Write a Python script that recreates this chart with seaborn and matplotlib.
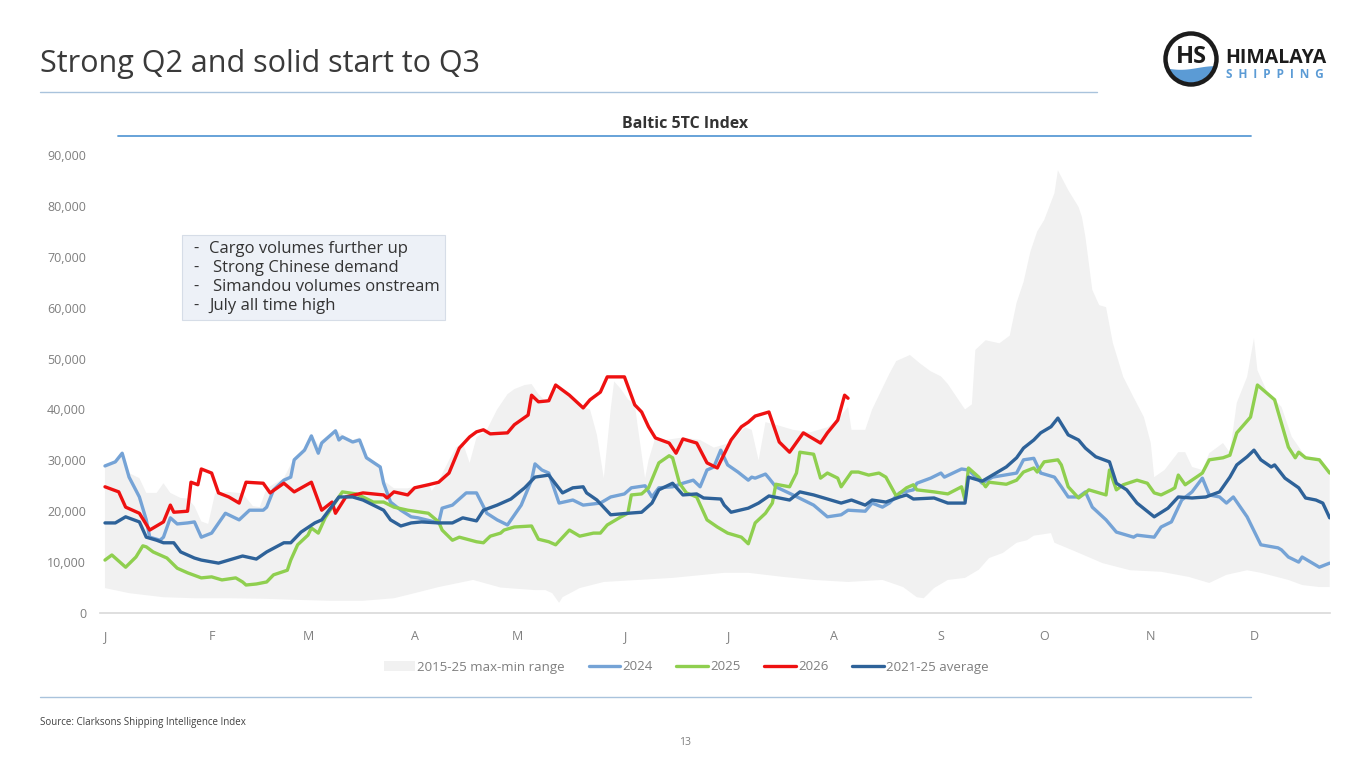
import numpy as np
import pandas as pd
import matplotlib
matplotlib.use("Agg")
import matplotlib.pyplot as plt
import seaborn as sns
from matplotlib.patches import Rectangle, Circle, Polygon, Patch
from matplotlib.lines import Line2D

# x axis: day of year, month initials at month starts
month_days = [0, 31, 59, 90, 120, 151, 181, 212, 243, 273, 304, 334]
month_labels = ["J", "F", "M", "A", "M", "J", "J", "A", "S", "O", "N", "D"]
y_ticks = list(range(0, 90001, 10000))

# values in USD '000 / day
days_2026 = [0, 4, 6, 10, 13, 17, 19, 20, 24, 25, 27, 28, 31, 33, 36, 39, 41, 46, 48, 52,
             55, 60, 63, 66, 67, 70, 75, 81, 82, 84, 88, 90, 94, 97, 100, 103, 106, 108, 110, 112,
             117, 119, 123, 124, 126, 129, 131, 135, 139, 141, 144, 146, 151, 154, 156, 158, 160, 164, 166, 168,
             172, 175, 178, 182, 185, 187, 189, 193, 196, 199, 203, 208, 210, 213, 215, 216]
vals_2026 = [24.8, 23.8, 20.8, 19.6, 16.3, 17.9, 21.2, 19.8, 20.0, 25.7, 25.2, 28.3, 27.5, 23.6, 22.8, 21.6, 25.7, 25.5, 23.6, 25.5,
             23.8, 25.7, 20.2, 21.8, 19.6, 22.8, 23.6, 23.2, 22.6, 23.8, 23.2, 24.6, 25.2, 25.7, 27.5, 32.4, 34.6, 35.6, 36.0, 35.2,
             35.4, 37.0, 38.9, 42.8, 41.5, 41.7, 44.8, 42.8, 40.3, 41.9, 43.4, 46.4, 46.4, 40.9, 39.5, 36.6, 34.4, 33.4, 31.4, 34.2,
             33.4, 29.5, 28.5, 34.0, 36.6, 37.5, 38.7, 39.5, 33.6, 31.6, 35.4, 33.4, 35.4, 37.9, 42.8, 42.2]

days_2024 = [0, 3, 5, 7, 10, 12, 13, 16, 17, 19, 21, 24, 26, 28, 31, 35, 39, 42, 46, 47,
             49, 52, 54, 55, 58, 60, 62, 63, 67, 68, 69, 72, 74, 76, 80, 81, 83, 86, 89, 91,
             97, 98, 101, 105, 108, 111, 114, 117, 121, 124, 125, 127, 129, 132, 136, 139, 144, 147, 151, 153,
             157, 159, 161, 165, 168, 171, 173, 175, 177, 179, 181, 184, 187, 188, 189, 192, 193, 195, 200, 203,
             206, 210, 214, 216, 221, 223, 226, 228, 231, 235, 236, 240, 243, 244, 249, 251, 255, 258, 265, 267,
             270, 272, 276, 278, 280, 283, 285, 287, 291, 294, 299, 300, 305, 307, 310, 313, 316, 319, 321, 324,
             326, 328, 332, 336, 341, 342, 344, 347, 348, 353, 356]
vals_2024 = [28.9, 29.7, 31.4, 26.7, 22.8, 18.3, 14.9, 14.3, 14.9, 18.7, 17.5, 17.7, 17.9, 14.9, 15.7, 19.6, 18.3, 20.2, 20.2, 20.8,
             24.2, 26.1, 26.7, 30.1, 32.0, 34.8, 31.4, 33.4, 35.8, 34.0, 34.6, 33.6, 34.0, 30.5, 28.7, 25.5, 21.8, 20.2, 18.9, 18.7,
             17.7, 20.6, 21.2, 23.6, 23.6, 19.6, 18.3, 17.3, 21.2, 26.1, 29.3, 28.1, 27.5, 21.6, 22.2, 21.2, 21.6, 22.8, 23.4, 24.6,
             25.0, 22.8, 24.6, 24.8, 25.5, 26.1, 24.8, 28.1, 28.7, 32.0, 29.1, 27.7, 26.1, 26.7, 26.5, 27.3, 26.5, 24.8, 23.2, 22.2,
             21.2, 18.9, 19.3, 20.2, 20.0, 21.6, 20.8, 21.6, 23.6, 24.2, 25.5, 26.5, 27.5, 26.7, 28.3, 28.1, 25.5, 26.7, 27.5, 30.1,
             30.4, 27.5, 26.7, 24.8, 22.8, 22.8, 23.8, 20.8, 18.3, 15.9, 14.9, 15.3, 14.9, 16.9, 17.9, 22.2, 23.8, 26.5, 23.2, 22.8,
             21.6, 22.8, 18.9, 13.4, 12.8, 12.4, 11.0, 10.0, 11.0, 9.0, 9.8]

days_2025 = [0, 2, 6, 9, 11, 12, 14, 18, 21, 24, 28, 31, 34, 38, 40, 41, 44, 47, 49, 53,
             54, 56, 59, 60, 62, 64, 66, 69, 73, 75, 78, 81, 84, 88, 94, 97, 98, 101, 103, 108,
             110, 112, 115, 116, 119, 124, 126, 129, 131, 135, 138, 142, 144, 146, 150, 152, 153, 156, 158, 161,
             164, 165, 167, 169, 172, 175, 178, 181, 185, 187, 189, 192, 194, 195, 199, 201, 202, 206, 208, 210,
             213, 214, 217, 219, 222, 225, 227, 230, 233, 235, 236, 241, 245, 249, 250, 251, 254, 256, 257, 262,
             265, 267, 270, 271, 273, 277, 278, 280, 283, 285, 286, 291, 292, 294, 296, 300, 303, 305, 307, 310,
             311, 312, 314, 319, 321, 325, 327, 329, 333, 335, 340, 344, 346, 347, 349, 353, 356]
vals_2025 = [10.4, 11.4, 9.0, 11.0, 13.2, 13.0, 12.0, 10.8, 8.8, 7.9, 6.9, 7.1, 6.5, 6.9, 6.1, 5.5, 5.7, 6.1, 7.5, 8.4,
             10.4, 13.4, 15.3, 16.7, 15.7, 18.7, 20.8, 23.8, 23.4, 22.8, 21.8, 21.8, 20.8, 20.2, 19.6, 17.9, 16.3, 14.3, 14.9, 14.0,
             13.8, 15.1, 15.7, 16.3, 16.9, 17.1, 14.5, 14.0, 13.4, 16.3, 15.1, 15.7, 15.7, 17.3, 18.9, 19.6, 23.2, 23.4, 24.6, 29.5,
             30.9, 30.5, 25.5, 23.6, 22.8, 18.3, 16.9, 15.7, 14.9, 13.6, 17.7, 19.6, 21.6, 25.3, 24.8, 27.5, 31.6, 31.2, 26.5, 27.5,
             26.5, 24.8, 27.7, 27.7, 27.1, 27.5, 26.7, 23.0, 24.6, 25.2, 24.2, 23.8, 23.4, 24.8, 22.2, 28.5, 26.7, 24.8, 25.7, 25.3,
             26.1, 27.7, 28.5, 27.7, 29.7, 30.1, 29.1, 24.8, 22.6, 23.6, 24.2, 23.2, 28.1, 24.2, 25.2, 26.1, 25.5, 23.6, 23.2, 24.2,
             24.6, 27.1, 25.2, 27.5, 30.1, 30.5, 31.0, 35.4, 38.5, 44.8, 41.9, 32.6, 30.5, 31.6, 30.5, 30.1, 27.5]

days_avg = [0, 3, 6, 10, 12, 15, 17, 20, 22, 26, 28, 33, 36, 40, 44, 47, 52, 54, 57, 61,
            63, 68, 72, 75, 78, 81, 83, 86, 89, 92, 97, 101, 104, 108, 110, 114, 118, 122, 125, 129,
            133, 136, 139, 140, 143, 147, 152, 156, 159, 161, 165, 168, 172, 174, 179, 180, 182, 187, 190, 193,
            199, 202, 206, 214, 217, 221, 223, 227, 231, 233, 235, 241, 245, 250, 251, 255, 259, 262, 265, 267,
            270, 272, 275, 277, 280, 283, 285, 288, 292, 294, 297, 300, 305, 309, 312, 316, 320, 324, 327, 329,
            332, 334, 336, 339, 340, 343, 347, 349, 352, 354, 356]
vals_avg = [17.7, 17.7, 18.9, 17.9, 14.9, 14.3, 13.8, 13.8, 12.0, 10.8, 10.4, 9.8, 10.4, 11.2, 10.6, 12.0, 13.8, 13.8, 15.9, 17.7,
            18.3, 22.8, 22.8, 22.2, 21.2, 20.2, 18.3, 17.1, 17.7, 17.9, 17.7, 17.7, 18.7, 18.1, 20.2, 21.2, 22.4, 24.6, 26.7, 27.1,
            23.6, 24.6, 24.8, 23.6, 22.2, 19.3, 19.6, 19.8, 21.6, 24.2, 25.5, 23.2, 23.4, 22.6, 22.4, 21.2, 19.8, 20.6, 21.6, 23.0,
            22.2, 23.8, 23.2, 21.6, 22.2, 21.2, 22.2, 21.8, 22.8, 23.2, 22.4, 22.6, 21.6, 21.6, 26.7, 25.9, 27.5, 28.7, 30.5, 32.4,
            34.0, 35.4, 36.6, 38.3, 35.0, 34.0, 32.4, 30.7, 29.7, 25.5, 24.2, 21.6, 18.9, 20.6, 22.8, 22.6, 22.8, 23.8, 26.7, 29.1,
            30.7, 32.0, 30.1, 28.7, 29.1, 26.5, 24.6, 22.6, 22.2, 21.6, 18.7]

# 2015-25 max-min range
days_max = [0, 3, 5, 7, 10, 12, 15, 17, 19, 22, 24, 26, 28, 30, 32, 36, 40, 43, 45, 47,
            52, 55, 58, 60, 62, 63, 67, 69, 72, 74, 76, 80, 81, 84, 88, 91, 94, 95, 97, 100,
            102, 104, 106, 108, 111, 114, 117, 119, 122, 124, 126, 129, 131, 134, 137, 139, 141, 143, 145, 147,
            148, 150, 152, 154, 155, 157, 158, 160, 163, 168, 173, 177, 182, 186, 188, 190, 192, 195, 200, 205,
            210, 213, 216, 217, 221, 223, 228, 230, 234, 237, 240, 243, 245, 248, 250, 252, 253, 256, 260, 263,
            265, 267, 269, 271, 273, 276, 277, 280, 283, 284, 285, 287, 289, 291, 293, 296, 299, 302, 304, 305,
            308, 312, 314, 316, 319, 321, 325, 327, 329, 332, 334, 335, 338, 342, 345, 349, 353, 356]
vals_max = [29.0, 29.8, 31.6, 27.5, 26.5, 23.6, 23.6, 25.5, 23.6, 22.6, 22.5, 21.0, 18.0, 17.5, 23.5, 23.8, 23.5, 21.0, 20.8, 24.5,
            26.5, 30.5, 32.5, 35.0, 33.0, 34.0, 36.0, 35.0, 34.0, 34.5, 31.0, 29.0, 26.0, 24.5, 24.5, 25.0, 25.5, 24.0, 26.0, 30.0,
            32.5, 33.5, 29.5, 34.5, 36.0, 40.0, 43.0, 44.0, 44.8, 45.0, 43.0, 41.0, 44.0, 43.5, 41.5, 40.5, 40.0, 35.0, 26.5, 40.0,
            45.5, 44.0, 42.0, 41.0, 36.0, 26.5, 30.0, 34.5, 34.0, 34.5, 34.0, 32.5, 33.5, 36.5, 36.0, 30.0, 37.5, 37.0, 36.0, 35.5,
            36.5, 38.0, 40.5, 36.0, 36.0, 40.0, 47.0, 49.5, 50.7, 49.0, 47.5, 46.5, 45.0, 42.0, 40.0, 41.0, 51.7, 53.6, 53.0, 54.5,
            61.0, 65.0, 71.0, 75.0, 77.2, 82.5, 87.0, 83.1, 79.8, 77.8, 73.9, 63.5, 60.5, 60.1, 53.0, 46.4, 42.4, 38.5, 33.4, 26.7,
            28.1, 31.6, 31.6, 28.7, 28.1, 31.4, 33.4, 31.5, 41.3, 46.4, 54.0, 47.7, 43.2, 40.5, 34.6, 30.7, 30.5, 28.0]
days_min = [0, 7, 17, 26, 36, 46, 55, 65, 75, 84, 90, 97, 107, 115, 125, 128, 130, 132, 133, 138,
            145, 155, 165, 174, 180, 187, 197, 206, 216, 226, 232, 236, 238, 241, 245, 250, 254, 257, 261, 265,
            268, 270, 275, 276, 281, 290, 298, 307, 315, 321, 326, 332, 336, 344, 348, 353, 356]
vals_min = [4.9, 3.9, 3.1, 2.9, 2.9, 2.8, 2.6, 2.4, 2.4, 2.9, 3.9, 5.1, 6.5, 5.0, 4.5, 4.5, 3.9, 2.0, 3.1, 4.9,
            6.1, 6.5, 6.9, 7.5, 7.9, 7.9, 7.1, 6.5, 6.1, 6.5, 5.1, 3.1, 2.9, 4.9, 6.5, 6.9, 8.5, 10.8, 11.8, 13.8,
            14.3, 15.2, 15.7, 13.8, 12.4, 9.8, 8.4, 8.1, 7.1, 5.9, 7.5, 8.4, 7.9, 6.5, 5.5, 5.1, 5.1]

series_names = ["2024", "2025", "2026", "2021-25 average"]
series_colors = {"2024": "#75a3d6", "2025": "#8fcf4f", "2026": "#ee1111", "2021-25 average": "#2e6299"}
range_color = "#f1f1f1"

frames = []
for name, d, v in [("2024", days_2024, vals_2024), ("2025", days_2025, vals_2025),
                   ("2026", days_2026, vals_2026), ("2021-25 average", days_avg, vals_avg)]:
    frames.append(pd.DataFrame({"day": d, "value": np.array(v) * 1000, "series": name}))
df = pd.concat(frames, ignore_index=True)

sns.set_style("white")
plt.rcParams["font.family"] = ["Open Sans", "DejaVu Sans"]

W, H = 1365, 768
def fx(x):
    return x / W
def fy(y):
    return 1 - y / H

fig = plt.figure(figsize=(W / 100, H / 100), dpi=100)
fig.patch.set_facecolor("white")

# slide header
fig.text(fx(40), fy(72), "Strong Q2 and solid start to Q3", fontsize=22, color="#3a3a3a", va="baseline")
fig.add_artist(Line2D([fx(40), fx(1097)], [fy(92), fy(92)], color="#a9c3dc", lw=1))

# logo
ax_logo = fig.add_axes([fx(1160), fy(90), 62 / W, 62 / H])
ax_logo.set_xlim(0, 62)
ax_logo.set_ylim(0, 62)
ax_logo.axis("off")
inner = Circle((31, 31), 24, facecolor="none", edgecolor="none")
ax_logo.add_patch(inner)
wx = np.linspace(4, 58, 40)
wave_top = 22 - 1.8 * np.sin((wx - 4) / 54 * np.pi * 1.6)
wave = Polygon(np.column_stack([np.r_[wx, 58, 4], np.r_[wave_top, 0, 0]]), closed=True,
               facecolor="#5b9bd5", edgecolor="none")
ax_logo.add_patch(wave)
wave.set_clip_path(inner)
ax_logo.add_patch(Circle((31, 31), 25.5, fill=False, lw=3.2, edgecolor="#1c1c1c"))
ax_logo.text(31, 33, "HS", ha="center", va="center", fontsize=17, fontweight="bold", color="#1c1c1c")
fig.text(fx(1225), fy(63), "HIMALAYA", fontsize=14, fontweight="bold", color="#1c1c1c", va="baseline")
fig.text(fx(1226), fy(78), "S  H  I  P  P  I  N  G", fontsize=8.5, fontweight="bold", color="#5b9bd5",
         va="baseline")

# chart title
fig.text(fx(685), fy(128), "Baltic 5TC Index", fontsize=11.5, fontweight="bold", color="#333333",
         ha="center", va="baseline")
fig.add_artist(Line2D([fx(118), fx(1251)], [fy(136), fy(136)], color="#5b9bd5", lw=1.3))

# main chart
ax = fig.add_axes([fx(100), fy(613), fx(1330) - fx(100), (613 - 155) / H])
rx = np.concatenate([days_max, days_min[::-1]])
ry = np.concatenate([vals_max, vals_min[::-1]]) * 1000
ax.fill(rx, ry, color=range_color, lw=0, zorder=1)
sns.lineplot(data=df, x="day", y="value", hue="series", hue_order=series_names, palette=series_colors,
             estimator=None, linewidth=2.4, legend=False, ax=ax, zorder=3)

ax.set_xlim(-1.45, 356.1)
ax.set_ylim(0, 90000)
ax.set_xticks(month_days)
ax.set_xticklabels(month_labels)
ax.set_yticks(y_ticks)
ax.set_yticklabels([f"{t:,}" for t in y_ticks])
ax.tick_params(axis="both", length=0, labelsize=9, labelcolor="#7f7f7f")
ax.tick_params(axis="y", pad=10)
ax.tick_params(axis="x", pad=12)
ax.set_xlabel("")
ax.set_ylabel("")
for s in ["top", "right", "left"]:
    ax.spines[s].set_visible(False)
ax.spines["bottom"].set_color("#d9d9d9")
ax.spines["bottom"].set_linewidth(1.2)
ax.set_facecolor("white")
ax.grid(False)

# legend
handles = [Patch(facecolor=range_color, edgecolor="none")] + \
          [Line2D([0], [0], color=series_colors[n], lw=2.4) for n in series_names]
labels = ["2015-25 max-min range"] + series_names
fig.legend(handles, labels, loc="center", bbox_to_anchor=(fx(686), fy(667)), ncol=5, frameon=False,
           fontsize=9.5, handlelength=2.4, handletextpad=0.15, columnspacing=1.8, labelcolor="#7f7f7f")

# comment box
fig.add_artist(Rectangle((fx(182), fy(320)), fx(445) - fx(182), (320 - 235) / H,
                         facecolor="#edf1f7", edgecolor="#d6dde7", lw=0.8))
notes = [("Cargo volumes further up", 209), ("Strong Chinese demand", 213),
         ("Simandou volumes onstream", 213), ("July all time high", 209)]
for i, (txt, x0) in enumerate(notes):
    yy = 253 + i * 19
    fig.text(fx(193), fy(yy), "-", fontsize=12, color="#333333", va="baseline")
    fig.text(fx(x0), fy(yy), txt, fontsize=12, color="#333333", va="baseline")

# footer
fig.add_artist(Line2D([fx(40), fx(1251)], [fy(697), fy(697)], color="#a9c3dc", lw=1))
fig.text(fx(40), fy(725), "Source: Clarksons Shipping Intelligence Index", fontsize=7, color="#404040",
         va="baseline")
fig.text(fx(685), fy(745), "13", fontsize=7.5, color="#7f7f7f", ha="center", va="baseline")

fig.savefig("out.png", dpi=100, facecolor="white")
